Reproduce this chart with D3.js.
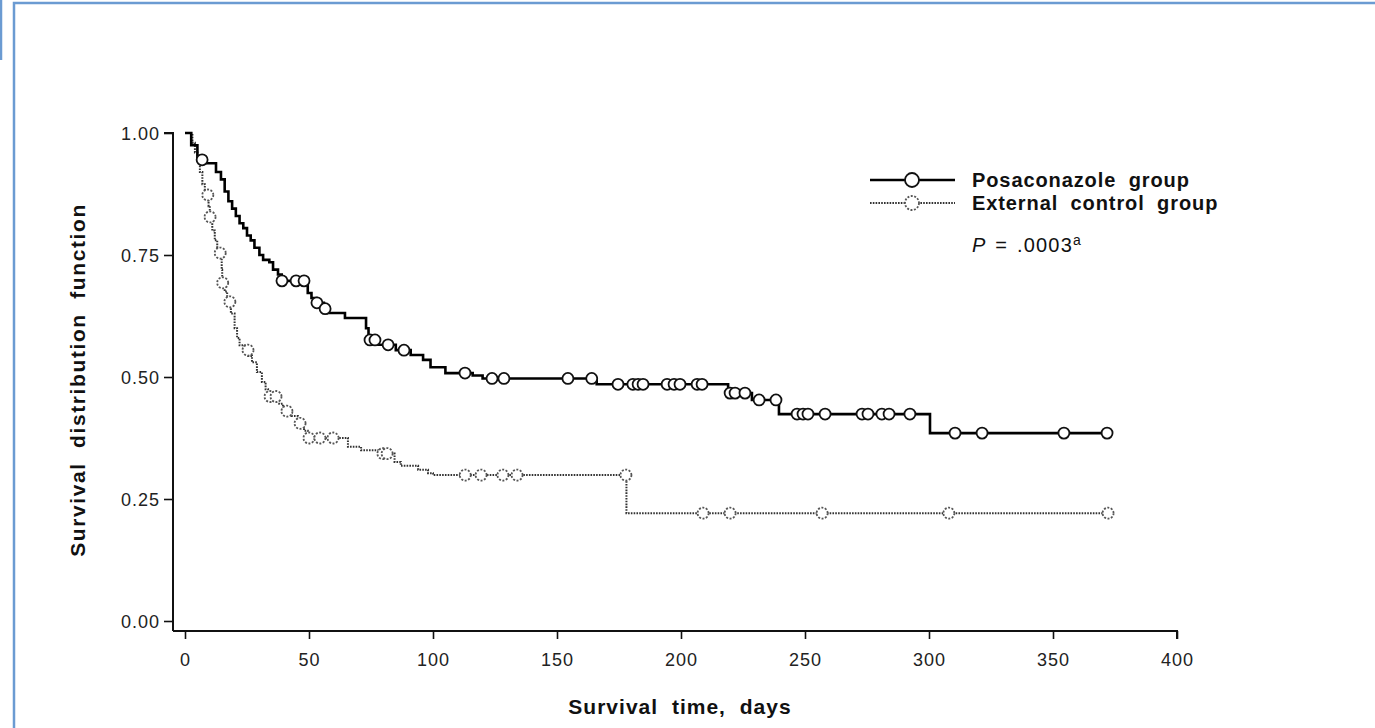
<!DOCTYPE html>
<html><head><meta charset="utf-8">
<script src="https://cdn.jsdelivr.net/npm/d3@7"></script>
<style>body{margin:0;background:#fff}svg{display:block}</style>
</head><body>
<svg id="c" width="1375" height="728"></svg>
<script>
// ---- data ----
const xTicks = [0, 50, 100, 150, 200, 250, 300, 350, 400];
const yTicks = [0, 0.25, 0.5, 0.75, 1.0];
const seriesNames = ["Posaconazole group", "External control group"];

// Posaconazole group: event times (days) and survival after each event
const posaTimes = [2.5, 5, 8, 12.5, 14.5, 16, 17.5, 19, 20.5, 22, 23.5, 25, 26.5, 28, 30, 31.5, 34, 35.5, 37.5, 39,
  49.5, 51, 53, 56, 57, 64.5, 73, 74, 78, 85, 91, 96, 99, 105, 116, 120, 166, 219, 228.6, 239.5, 300.4];
const posaSurv = [0.975, 0.945, 0.938, 0.92, 0.905, 0.88, 0.86, 0.845, 0.83, 0.815, 0.805, 0.79, 0.78, 0.765, 0.75, 0.74, 0.735, 0.72, 0.71, 0.697,
  0.672, 0.662, 0.652, 0.64, 0.631, 0.621, 0.60, 0.576, 0.566, 0.555, 0.545, 0.535, 0.52, 0.508, 0.503, 0.497, 0.485, 0.467, 0.453, 0.424, 0.385];
const posaCensor = [6.9, 39.1, 44.8, 48, 53.2, 56.5, 74.6, 76.6, 81.9, 88.3, 112.9, 123.8, 128.6, 154.4, 164,
  174.6, 180.6, 182.7, 184.7, 194.4, 197.2, 199.6, 206.5, 208.5, 219.8, 221.8, 225.8, 231.5, 238.3,
  246.8, 249.2, 251.2, 258.1, 273, 275.4, 281, 283.9, 292.3, 310.5, 321.4, 354.4, 371.8];

// External control group
const extTimes = [3, 4, 5, 6, 7, 8, 9.5, 10, 11, 12, 13, 14.8, 15, 16, 17, 18.5, 20, 21, 22, 24, 25.5, 27, 29, 31, 32.5, 33.5,
  38, 39.5, 43, 45.5, 48, 49.5, 65.7, 71, 78, 84.5, 87, 94, 98, 100, 178];
const extSurv = [0.98, 0.96, 0.945, 0.92, 0.895, 0.873, 0.85, 0.828, 0.80, 0.78, 0.754, 0.72, 0.693, 0.675, 0.654, 0.63, 0.60, 0.58, 0.565, 0.555, 0.543, 0.53, 0.51, 0.49, 0.475, 0.46,
  0.445, 0.43, 0.42, 0.405, 0.39, 0.375, 0.357, 0.35, 0.343, 0.326, 0.318, 0.31, 0.303, 0.299, 0.221];
const extCensor = [9.2, 10.1, 14.2, 15.2, 18.1, 25.4, 34.3, 36.7, 41.1, 46.4, 50, 54.4, 59.7, 79.8, 81.5,
  113, 119.4, 128.2, 133.9, 177.8, 208.9, 219.8, 256.9, 308, 372.2];

// ---- layout ----
const FONT = "Liberation Sans, Arial, sans-serif";
const svg = d3.select("#c");
const x = d3.scaleLinear().domain([0, 400]).range([185, 1177]);
const y = d3.scaleLinear().domain([0, 1]).range([621, 133]);
const axisX0 = 173, axisY0 = 631;

// frame
const blue = "#6b9bd2";
svg.append("path").attr("d", "M14,728 L14,3 L1375,3").attr("fill", "none").attr("stroke", blue).attr("stroke-width", 2.5);
svg.append("line").attr("x1", 1).attr("x2", 1).attr("y1", 0).attr("y2", 60).attr("stroke", blue).attr("stroke-width", 2.5);

// axes
const yAxis = d3.axisLeft(y).tickValues(yTicks).tickFormat(d3.format(".2f")).tickSize(9).tickPadding(4);
const gy = svg.append("g").attr("transform", `translate(${axisX0},0)`).call(yAxis);
gy.select(".domain").attr("d", `M-9,${y(1)}H0V${axisY0}`);
const xAxis = d3.axisBottom(x).tickValues(xTicks).tickSize(8).tickPadding(14);
const gx = svg.append("g").attr("transform", `translate(0,${axisY0})`).call(xAxis);
gx.select(".domain").attr("d", `M${axisX0},0H${x(400)}V8`);
[gx, gy].forEach(g => {
  g.attr("font-size", null).attr("font-family", null);
  g.selectAll(".domain").attr("stroke", "#111").attr("stroke-width", 2);
  g.selectAll(".tick line").attr("stroke", "#111").attr("stroke-width", 1.6);
  g.selectAll("text").style("font-family", FONT).style("font-size", "18px").style("letter-spacing", "1px").attr("fill", "#222");
});
gy.selectAll("text").attr("dy", "0.36em");

// axis titles
svg.append("text").attr("transform", `translate(85,380) rotate(-90)`).attr("text-anchor", "middle")
  .style("font-family", FONT).style("font-weight", "bold").style("font-size", "21px")
  .style("letter-spacing", "1.6px").style("word-spacing", "7px").attr("fill", "#111").text("Survival distribution function");
svg.append("text").attr("x", 680).attr("y", 714).attr("text-anchor", "middle")
  .style("font-family", FONT).style("font-weight", "bold").style("font-size", "21px")
  .style("letter-spacing", "1px").style("word-spacing", "7px").attr("fill", "#111").text("Survival time, days");

// step functions
function stepPoints(times, surv, endT) {
  const pts = [[0, 1]];
  times.forEach((t, i) => pts.push([t, surv[i]]));
  pts.push([endT, surv[surv.length - 1]]);
  return pts;
}
function survAt(times, surv, t) {
  let s = 1;
  for (let i = 0; i < times.length; i++) if (times[i] <= t) s = surv[i];
  return s;
}
const line = d3.line().x(d => x(d[0])).y(d => y(d[1])).curve(d3.curveStepAfter);

const styles = [
  {times: posaTimes, surv: posaSurv, cens: posaCensor, stroke: "#000", width: 2.6, dash: null, cstroke: "#111", cdash: null},
  {times: extTimes, surv: extSurv, cens: extCensor, stroke: "#333", width: 2, dash: "1.6,1.2", cstroke: "#555", cdash: "2,1.5"}
];
// draw external first, posaconazole on top
[styles[1], styles[0]].forEach(s => {
  const endT = d3.max(s.cens);
  svg.append("path").datum(stepPoints(s.times, s.surv, endT)).attr("d", line)
    .attr("fill", "none").attr("stroke", s.stroke).attr("stroke-width", s.width)
    .attr("stroke-dasharray", s.dash);
  svg.append("g").selectAll("circle").data(s.cens).join("circle")
    .attr("cx", d => x(d)).attr("cy", d => y(survAt(s.times, s.surv, d))).attr("r", 5.5)
    .attr("fill", "#fff").attr("stroke", s.cstroke).attr("stroke-width", 1.8).attr("stroke-dasharray", s.cdash);
});

// legend
const lg = svg.append("g");
const legendRows = [
  {name: seriesNames[0], s: styles[0], yy: 180},
  {name: seriesNames[1], s: styles[1], yy: 203}
];
legendRows.forEach(r => {
  lg.append("line").attr("x1", 870).attr("x2", 955).attr("y1", r.yy).attr("y2", r.yy)
    .attr("stroke", r.s.stroke).attr("stroke-width", r.s.width).attr("stroke-dasharray", r.s.dash);
  lg.append("circle").attr("cx", 912).attr("cy", r.yy).attr("r", 7)
    .attr("fill", "#fff").attr("stroke", r.s.cstroke).attr("stroke-width", 1.8).attr("stroke-dasharray", r.s.cdash);
  lg.append("text").attr("x", 972).attr("y", r.yy + 7).style("font-family", FONT)
    .style("font-weight", "bold").style("font-size", "20px").style("letter-spacing", "0.9px").style("word-spacing", "6px")
    .attr("fill", "#111").text(r.name);
});
const pt = lg.append("text").attr("x", 972).attr("y", 252).style("font-family", FONT)
  .style("font-size", "20px").style("letter-spacing", "1.2px").style("word-spacing", "2px").attr("fill", "#111");
pt.append("tspan").style("font-style", "italic").text("P");
pt.append("tspan").text(" = .0003");
pt.append("tspan").style("font-size", "14px").attr("dy", -7).text("a");
</script>
</body></html>
